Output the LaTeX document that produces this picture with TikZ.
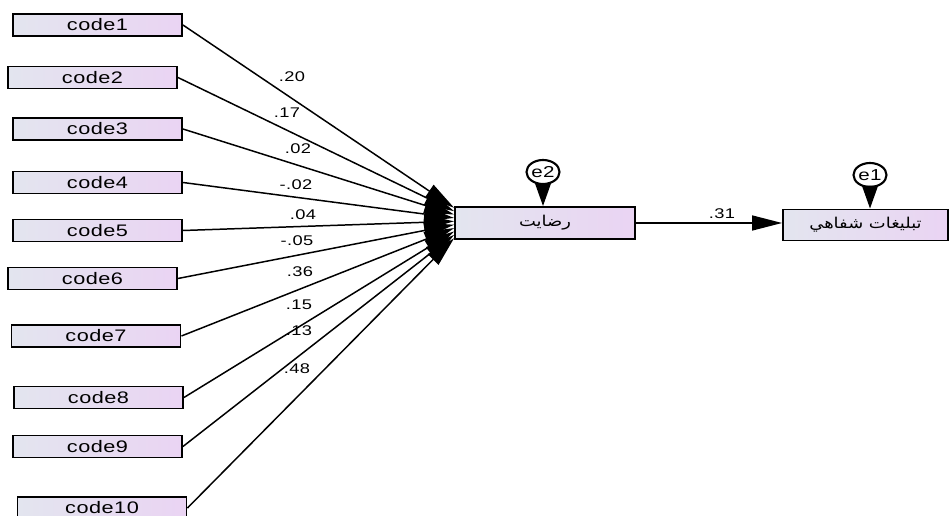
\documentclass[tikz,border=0pt]{standalone}
\usepackage{fontspec}
\setmainfont{Liberation Sans}[FakeStretch=1.3,LetterSpace=3]
\newfontfamily\arabicfont[Script=Arabic,FakeStretch=1.2]{DejaVu Sans}
\TeXXeTstate=1
\usetikzlibrary{arrows.meta,calc,shapes.geometric}

\definecolor{boxL}{HTML}{E3E5EF}
\definecolor{boxR}{HTML}{EAD4F3}

\tikzstyle{Box}=[draw,line width=1.1pt,inner sep=0pt,left color=boxL,right color=boxR,
  minimum width=3.38cm,minimum height=0.44cm,font=\fontsize{9.5}{10}\selectfont]
\tikzstyle{Latent}=[Box,minimum width=3.6cm,minimum height=0.64cm]
\tikzstyle{Err}=[draw,ellipse,line width=1.2pt,fill=white,inner sep=0pt,
  minimum width=0.66cm,minimum height=0.48cm,font=\fontsize{9}{9}\selectfont]
\tikzstyle{Line}=[-{Triangle[length=17pt,width=8.5pt]},line width=0.85pt]
\tikzstyle{ErrLine}=[-{Triangle[length=13pt,width=9pt]},line width=0.85pt]
\tikzstyle{Coef}=[inner sep=1pt,font=\fontsize{8}{9}\selectfont]

\begin{document}
\begin{tikzpicture}[x=0.02cm,y=-0.02cm]

    \useasboundingbox (0,0) rectangle (949,516);

    % indicators
    \node[Box] (c1) at (97.5, 25) {code1};
    \node[Box] (c2) at (92.5, 77.5) {code2};
    \node[Box] (c3) at (97.5, 129) {code3};
    \node[Box] (c4) at (97.5, 182.5) {code4};
    \node[Box] (c5) at (97.5, 230.5) {code5};
    \node[Box] (c6) at (92.5, 278.5) {code6};
    \node[Box] (c7) at (96, 336) {code7};
    \node[Box] (c8) at (98.5, 397.5) {code8};
    \node[Box] (c9) at (97.5, 446.5) {code9};
    \node[Box] (c10) at (102, 508) {code10};

    % satisfaction and word of mouth
    \node[Latent] (rz) at (545, 223) {\arabicfont\fontsize{8.5}{9}\selectfont\beginR رضایت\endR};
    \node[Latent,minimum width=3.3cm,minimum height=0.62cm] (wom) at (865.5, 225) {\arabicfont\fontsize{8.5}{9}\selectfont\beginR تبليغات شفاهي\endR};

    \node[Err] (e2) at (543, 172) {e2};
    \node[Err] (e1) at (870, 175) {e1};

    \draw[Line] (c1.east) -- ($(rz.north west)!0.05!(rz.south west)$);
    \draw[Line] (c2.east) -- ($(rz.north west)!0.15!(rz.south west)$);
    \draw[Line] (c3.east) -- ($(rz.north west)!0.25!(rz.south west)$);
    \draw[Line] (c4.east) -- ($(rz.north west)!0.35!(rz.south west)$);
    \draw[Line] (c5.east) -- ($(rz.north west)!0.45!(rz.south west)$);
    \draw[Line] (c6.east) -- ($(rz.north west)!0.55!(rz.south west)$);
    \draw[Line] (c7.east) -- ($(rz.north west)!0.65!(rz.south west)$);
    \draw[Line] (c8.east) -- ($(rz.north west)!0.75!(rz.south west)$);
    \draw[Line] (c9.east) -- ($(rz.north west)!0.85!(rz.south west)$);
    \draw[Line] (c10.east) -- ($(rz.north west)!0.95!(rz.south west)$);

    \draw[Line] (rz.east) -- (rz.east -| wom.west);
    \draw[ErrLine] (e2.south) -- (e2.south |- rz.north);
    \draw[ErrLine] (e1.south) -- (e1.south |- wom.north);

    % path coefficients
    \node[Coef] (w1) at (292, 77) {.20};
    \node[Coef] (w2) at (287, 113) {.17};
    \node[Coef] (w3) at (298, 149) {.02};
    \node[Coef] (w4) at (296, 185) {-.02};
    \node[Coef] (w5) at (303, 215) {.04};
    \node[Coef] (w6) at (297, 241) {-.05};
    \node[Coef] (w7) at (300, 272) {.36};
    \node[Coef] (w8) at (299, 305) {.15};
    \node[Coef] (w9) at (299, 331) {.13};
    \node[Coef] (w10) at (297, 369) {.48};
    \node[Coef] (w11) at (722, 214) {.31};

\end{tikzpicture}
\end{document}
